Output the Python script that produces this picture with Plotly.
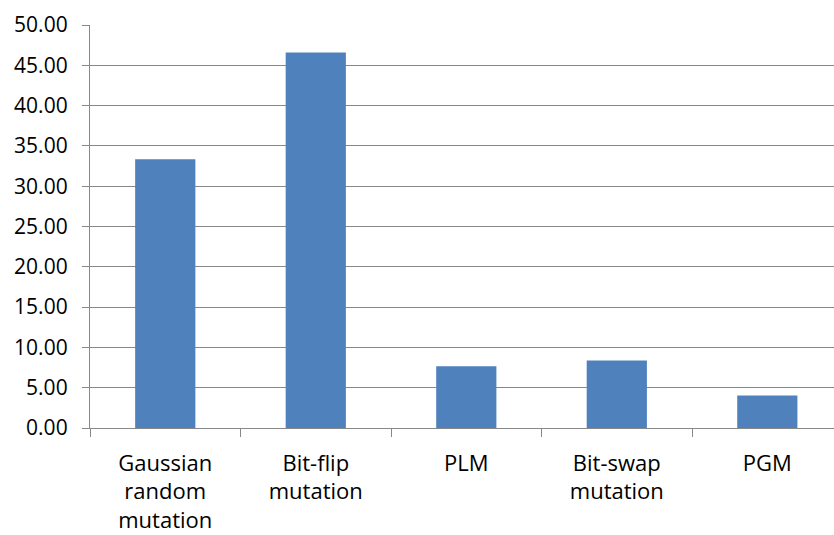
import plotly.graph_objects as go

categories = ["Gaussian<br>random<br>mutation", "Bit-flip<br>mutation", "PLM", "Bit-swap<br>mutation", "PGM"]
values = [33.35, 46.6, 7.65, 8.36, 4.02]
y_ticks = [0, 5, 10, 15, 20, 25, 30, 35, 40, 45, 50]
y_tick_labels = [f"{v:.2f}" for v in y_ticks]

FONT = "'Open Sans', Lato, sans-serif"
GRID = "#888888"

fig = go.Figure(go.Bar(
    x=categories, y=values,
    marker=dict(color="#4F81BD", line=dict(width=0)),
    width=0.4,
))

fig.update_layout(
    width=834, height=535,
    margin=dict(l=90, r=0, t=25, b=107),
    paper_bgcolor="white", plot_bgcolor="white",
    showlegend=False,
    font=dict(family=FONT, size=21, color="#000000"),
    bargap=0.6,
)
fig.update_xaxes(
    type="category",
    range=[-0.5, 4.443],
    automargin=False,
    showline=True, linecolor=GRID, linewidth=1.3,
    ticks="outside", ticklen=8, tickcolor=GRID, tickwidth=1.3,
    tickson="boundaries",
    showgrid=False,
    ticklabelstandoff=15,
    tickfont=dict(family=FONT, size=22, color="#000000"),
)
fig.update_yaxes(
    range=[0, 50],
    automargin=False,
    tickvals=y_ticks, ticktext=y_tick_labels,
    showline=True, linecolor=GRID, linewidth=1.3,
    ticks="outside", ticklen=7, tickcolor=GRID, tickwidth=1.3,
    showgrid=True, gridcolor=GRID, gridwidth=1.3,
    zeroline=False,
    ticklabelstandoff=10,
    tickfont=dict(family=FONT, size=21, color="#000000"),
)

fig.write_html("out.html")
